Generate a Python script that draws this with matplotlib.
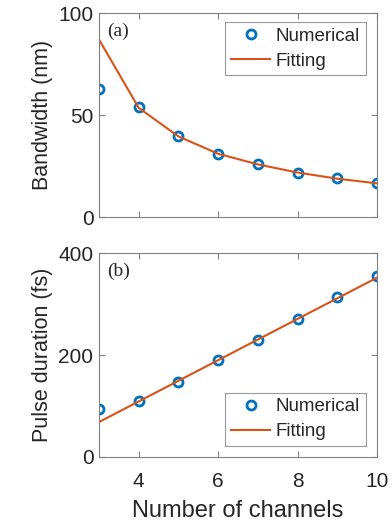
import matplotlib
matplotlib.use('Agg')
import matplotlib.pyplot as plt

# channel counts
channels = [3, 4, 5, 6, 7, 8, 9, 10]

# (a) spectral bandwidth in nm
bandwidthNum = [62.6, 53.8, 39.9, 30.9, 25.8, 21.8, 18.9, 16.7]
bandwidthFit = [87.0, 53.5, 39.5, 31.0, 25.8, 21.8, 18.8, 16.5]

# (b) pulse duration in fs
durationNum = [94.8, 109.6, 147.6, 190.7, 230.4, 271.6, 313.3, 354.4]
durationFit = [68.5, 109.0, 149.5, 190.0, 230.5, 271.0, 311.5, 352.0]

blue = '#0072BD'
orange = '#D95319'
axisGray = '#808080'
textGray = '#262626'

plt.rcParams['font.family'] = ['Liberation Sans', 'DejaVu Sans']
plt.rcParams['font.size'] = 14

fig = plt.figure(figsize=(3.92, 5.27), dpi=100)
axA = fig.add_axes([0.2526, 0.5882, 0.709, 0.3871])
axB = fig.add_axes([0.2526, 0.1330, 0.709, 0.3864])


def style_axis(ax):
    for s in ax.spines.values():
        s.set_color(axisGray)
        s.set_linewidth(0.8)
    ax.tick_params(direction='in', length=4, width=0.8, color=axisGray,
                   labelcolor=textGray, labelsize=15, top=True, right=True, pad=4)
    ax.tick_params(axis='x', pad=11)
    ax.set_xlim(3, 10)
    ax.set_xticks([4, 6, 8, 10])


def add_legend(ax, loc, anchor):
    leg = ax.legend(loc=loc, bbox_to_anchor=anchor, fontsize=13.5,
                    frameon=True, fancybox=False, edgecolor=axisGray, handlelength=2.1,
                    borderpad=0.3, labelspacing=0.4, handletextpad=0.3, borderaxespad=0)
    leg.get_frame().set_linewidth(0.8)
    for t in leg.get_texts():
        t.set_color(textGray)
    return leg


# panel (a)
axA.plot(channels, bandwidthNum, 'o', mfc='none', mec=blue, mew=2, ms=6.5, label='Numerical')
axA.plot(channels, bandwidthFit, '-', color=orange, lw=1.5, label='Fitting')
style_axis(axA)
axA.set_ylim(0, 100)
axA.set_yticks([0, 50, 100])
axA.set_xticklabels([])
axA.set_ylabel('Bandwidth (nm)', color=textGray, fontsize=15.5, labelpad=4)
axA.text(0.03, 0.955, '(a)', transform=axA.transAxes, ha='left', va='top',
         family='Liberation Serif', fontsize=14, color=textGray)
add_legend(axA, 'upper right', (0.96, 0.955))

# panel (b)
axB.plot(channels, durationNum, 'o', mfc='none', mec=blue, mew=2, ms=6.5, label='Numerical')
axB.plot(channels, durationFit, '-', color=orange, lw=1.5, label='Fitting')
style_axis(axB)
axB.set_ylim(0, 400)
axB.set_yticks([0, 200, 400])
axB.set_ylabel('Pulse duration (fs)', color=textGray, fontsize=15.5, labelpad=4)
axB.set_xlabel('Number of channels', color=textGray, fontsize=17, labelpad=6)
axB.text(0.03, 0.955, '(b)', transform=axB.transAxes, ha='left', va='top',
         family='Liberation Serif', fontsize=14, color=textGray)
add_legend(axB, 'lower right', (0.96, 0.055))

fig.savefig('out.png', dpi=100)
